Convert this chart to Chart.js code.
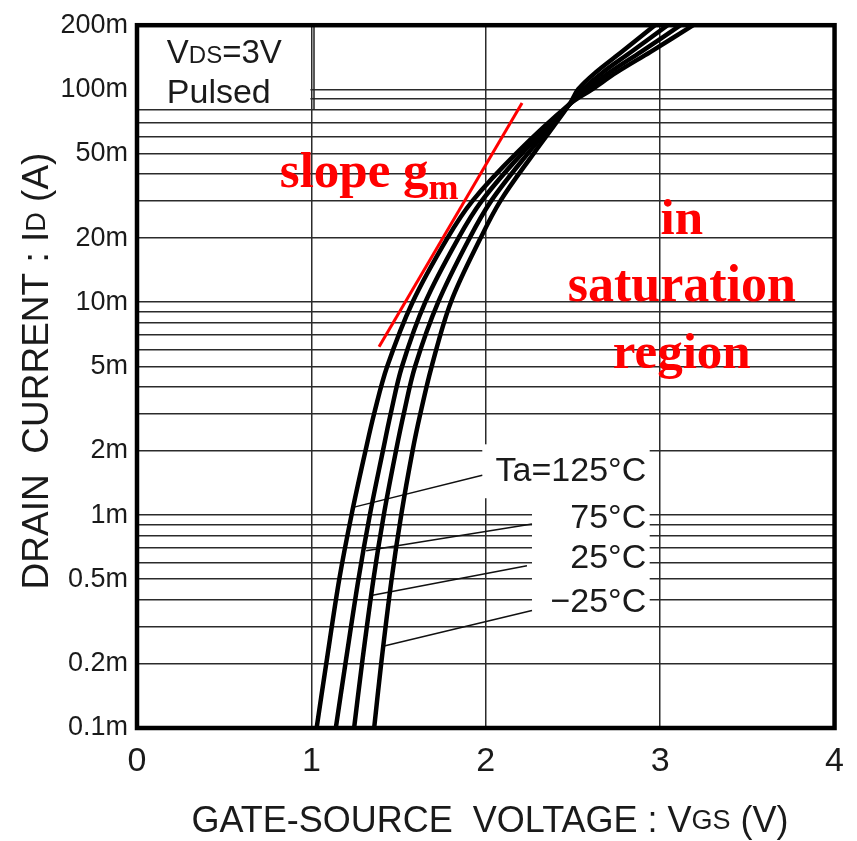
<!DOCTYPE html>
<html>
<head>
<meta charset="utf-8">
<title>Drain current vs gate-source voltage</title>
<script src="https://cdn.jsdelivr.net/npm/chart.js@4.4.1/dist/chart.umd.min.js"></script>
<style>
    body { margin: 0; background: #fff; }
    #grafica { display: block; }
</style>
</head>
<body>
<canvas id="grafica" width="857" height="841"></canvas>
<script>
// drain current (A) at which the curves were read
const drainCurrent = [0.0001, 0.0002, 0.0005, 0.001, 0.002, 0.003, 0.005, 0.01, 0.02, 0.03, 0.05, 0.085, 0.1, 0.12, 0.15, 0.2];

// gate-source voltage (V) for each temperature
const vgs125 = [1.03, 1.085, 1.16, 1.23, 1.31, 1.36, 1.435, 1.58, 1.78, 1.925, 2.175, 2.48, 2.61, 2.75, 2.945, 3.19];
const vgs75 = [1.14, 1.195, 1.27, 1.335, 1.41, 1.455, 1.52, 1.653, 1.843, 1.978, 2.208, 2.48, 2.583, 2.71, 2.89, 3.117];
const vgs25 = [1.245, 1.29, 1.356, 1.415, 1.485, 1.53, 1.595, 1.727, 1.907, 2.032, 2.242, 2.48, 2.557, 2.67, 2.835, 3.043];
const vgsM25 = [1.36, 1.40, 1.46, 1.515, 1.58, 1.625, 1.69, 1.80, 1.97, 2.085, 2.275, 2.48, 2.53, 2.63, 2.78, 2.97];

// tangent line "slope gm"
const slopeV = [1.388, 2.208];
const slopeI = [0.00617, 0.0863];

// temperature labels and their leader lines
const tempLabels = ['Ta=125°C', '75°C', '25°C', '\u221225°C'];
const tempLabelI = [0.0016, 0.00096, 0.000627, 0.00039];
const tempLabelV = 2.92;
const leaderStartV = [1.98, 2.265, 2.236, 2.265];
const leaderStartI = [0.00154, 0.000908, 0.000578, 0.000356];
const leaderEndV = [1.245, 1.314, 1.343, 1.411];
const leaderEndI = [0.00109, 0.00068, 0.000419, 0.000242];

// axis ticks
const xTicks = [0, 1, 2, 3, 4];
const yGridValues = [
    0.0001, 0.0002, 0.0003, 0.0004, 0.0005, 0.0006, 0.0007, 0.0008, 0.0009,
    0.001, 0.002, 0.003, 0.004, 0.005, 0.006, 0.007, 0.008, 0.009,
    0.01, 0.02, 0.03, 0.04, 0.05, 0.06, 0.07, 0.08, 0.09,
    0.1, 0.2
];
const yLabelValues = [0.0001, 0.0002, 0.0005, 0.001, 0.002, 0.005, 0.01, 0.02, 0.05, 0.1, 0.2];
const yLabelTexts = ['0.1m', '0.2m', '0.5m', '1m', '2m', '5m', '10m', '20m', '50m', '100m', '200m'];

const SANS = '"Liberation Sans", Arial, sans-serif';
const SERIF = '"Liberation Serif", "Times New Roman", serif';
const TEXT = '#1a1a1a';
const RED = '#ff0000';

function toPoints(vs, is) {
    return vs.map((v, i) => ({ x: v, y: is[i] }));
}

function curve(vs) {
    return {
        data: toPoints(vs, drainCurrent),
        borderColor: '#000',
        borderWidth: 4.5,
        pointRadius: 0,
        tension: 0.35,
        fill: false
    };
}

const datasets = [curve(vgs125), curve(vgs75), curve(vgs25), curve(vgsM25)];

datasets.push({
    data: toPoints(slopeV, slopeI),
    borderColor: RED,
    borderWidth: 3,
    pointRadius: 0,
    fill: false
});

tempLabels.forEach((t, i) => {
    datasets.push({
        data: [{ x: leaderStartV[i], y: leaderStartI[i] }, { x: leaderEndV[i], y: leaderEndI[i] }],
        borderColor: '#111',
        borderWidth: 1.5,
        pointRadius: 0,
        fill: false
    });
});

// writes text made of runs with different fonts (for the small subscripts)
function drawRuns(ctx, runs, x, y, align) {
    let total = 0;
    runs.forEach(r => { ctx.font = r[1]; total += ctx.measureText(r[0]).width; });
    let cx = align === 'center' ? x - total / 2 : (align === 'right' ? x - total : x);
    ctx.textAlign = 'left';
    runs.forEach(r => {
        ctx.font = r[1];
        ctx.fillText(r[0], cx, y + (r[2] || 0));
        cx += ctx.measureText(r[0]).width;
    });
}

const annotations = {
    id: 'annotations',
    beforeDatasetsDraw(chart) {
        const { ctx, chartArea, scales: { x, y } } = chart;
        ctx.save();
        ctx.fillStyle = '#fff';

        // white backgrounds behind the temperature labels
        const rects = [[1.98, 2.94, 0.0012, 0.00215], [2.265, 2.94, 0.000327, 0.00107]];
        rects.forEach(r => {
            const x0 = x.getPixelForValue(r[0]), x1 = x.getPixelForValue(r[1]);
            const y0 = y.getPixelForValue(r[3]), y1 = y.getPixelForValue(r[2]);
            ctx.fillRect(x0, y0, x1 - x0, y1 - y0);
        });

        // condition box in the upper left corner
        const bx = x.getPixelForValue(1) - 1;
        const by = y.getPixelForValue(0.08) - 1;
        ctx.fillRect(chartArea.left, chartArea.top, bx - chartArea.left, by - chartArea.top);
        ctx.strokeStyle = '#222';
        ctx.lineWidth = 1.5;
        ctx.beginPath();
        const lx = x.getPixelForValue(1.015);
        ctx.moveTo(lx, chartArea.top);
        ctx.lineTo(lx, by + 1);
        ctx.stroke();

        ctx.fillStyle = TEXT;
        ctx.textBaseline = 'alphabetic';
        drawRuns(ctx, [['V', '33px ' + SANS], ['DS', '24px ' + SANS], ['=3V', '33px ' + SANS]],
            x.getPixelForValue(0.171), y.getPixelForValue(0.1327), 'left');
        drawRuns(ctx, [['Pulsed', '34px ' + SANS]],
            x.getPixelForValue(0.171), y.getPixelForValue(0.0863), 'left');
        ctx.restore();
    },
    afterDatasetsDraw(chart) {
        const { ctx, chartArea, scales: { x, y } } = chart;
        ctx.save();

        // temperature labels
        ctx.fillStyle = TEXT;
        ctx.textBaseline = 'middle';
        tempLabels.forEach((t, i) => {
            drawRuns(ctx, [[t, '34px ' + SANS]], x.getPixelForValue(tempLabelV), y.getPixelForValue(tempLabelI[i]), 'right');
        });

        // red notes
        ctx.fillStyle = RED;
        ctx.textBaseline = 'alphabetic';
        drawRuns(ctx, [['slope g', 'bold 51px ' + SERIF], ['m', 'bold 36px ' + SERIF, 12]],
            x.getPixelForValue(0.819), y.getPixelForValue(0.0346), 'left');
        const cx = x.getPixelForValue(3.124);
        drawRuns(ctx, [['in', 'bold 51px ' + SERIF]], cx, y.getPixelForValue(0.0208), 'center');
        drawRuns(ctx, [['saturation', 'bold 52px ' + SERIF]], cx, y.getPixelForValue(0.01013), 'center');
        drawRuns(ctx, [['region', 'bold 51px ' + SERIF]], cx, y.getPixelForValue(0.00493), 'center');

        // frame
        ctx.strokeStyle = '#000';
        ctx.lineWidth = 4.5;
        ctx.strokeRect(chartArea.left, chartArea.top, chartArea.right - chartArea.left, chartArea.bottom - chartArea.top);

        // axis titles
        ctx.fillStyle = TEXT;
        ctx.textBaseline = 'middle';
        drawRuns(ctx, [['GATE-SOURCE  VOLTAGE : V', '36px ' + SANS], ['GS', '27px ' + SANS], [' (V)', '36px ' + SANS]],
            490, 822, 'center');
        ctx.translate(38, 371);
        ctx.rotate(-Math.PI / 2);
        drawRuns(ctx, [['DRAIN  CURRENT : I', '37px ' + SANS], ['D', '27px ' + SANS], [' (A)', '37px ' + SANS]],
            0, 0, 'center');
        ctx.restore();
    }
};

const gridStyle = { color: '#2b2b2b', lineWidth: 1.5, drawTicks: false };

new Chart(document.getElementById('grafica'), {
    type: 'line',
    data: { datasets: datasets },
    options: {
        responsive: false,
        animation: false,
        layout: { padding: { left: 0, right: 17, top: 22, bottom: 0 } },
        plugins: { legend: { display: false }, tooltip: { enabled: false } },
        scales: {
            x: {
                type: 'linear',
                min: 0,
                max: 4,
                afterFit(scale) { scale.height = 113; },
                afterBuildTicks(scale) { scale.ticks = xTicks.map(v => ({ value: v })); },
                ticks: { font: { family: SANS, size: 34 }, color: TEXT, padding: 13, maxRotation: 0, autoSkip: false },
                grid: gridStyle,
                border: { display: false }
            },
            y: {
                type: 'logarithmic',
                min: 0.0001,
                max: 0.2,
                afterFit(scale) { scale.width = 137; },
                afterBuildTicks(scale) { scale.ticks = yGridValues.map(v => ({ value: v })); },
                ticks: {
                    autoSkip: false,
                    font: { family: SANS, size: 27 },
                    color: TEXT,
                    padding: 9,
                    callback: (v) => {
                        const k = yLabelValues.findIndex(l => Math.abs(v / l - 1) < 1e-6);
                        return k >= 0 ? yLabelTexts[k] : '';
                    }
                },
                grid: gridStyle,
                border: { display: false }
            }
        }
    },
    plugins: [annotations]
});
</script>
</body>
</html>
